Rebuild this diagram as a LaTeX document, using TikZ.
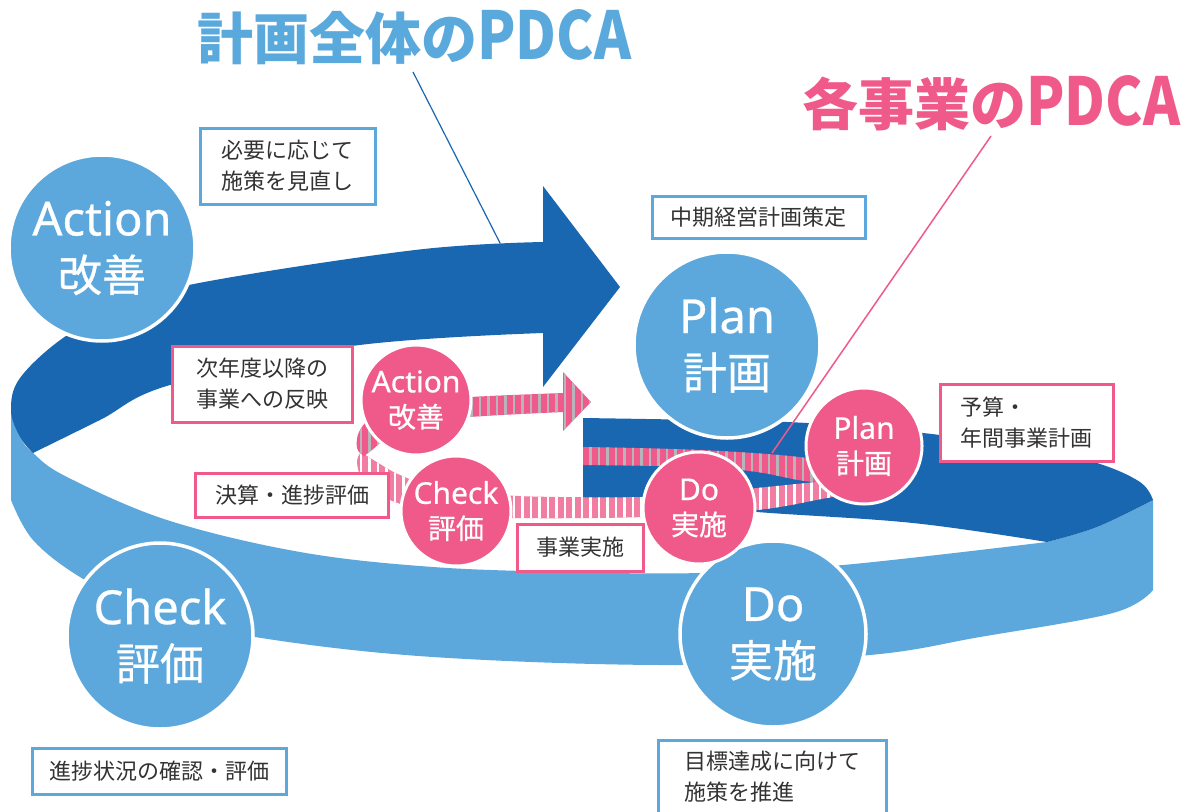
\documentclass[tikz,border=0pt]{standalone}
\usepackage{fontspec}
\setmainfont{Noto Sans CJK JP}
\newfontfamily\jp{Noto Sans CJK JP}
\newfontfamily\jpm{Noto Sans CJK JP}[FakeBold=0.6]
\newfontfamily\lat{Noto Sans}[FakeBold=0.6]
\definecolor{dblue}{HTML}{1A67B1}
\definecolor{lblue}{HTML}{5CA8DC}
\definecolor{tblue}{HTML}{5AA9DD}
\definecolor{pinkc}{HTML}{EF5A8A}
\definecolor{txt}{HTML}{333333}
\definecolor{stripeg}{HTML}{B8B4BC}
\definecolor{pinkl}{HTML}{F27DA2}
\newcommand\bigLat[1]{{\lat\fontsize{47}{56}\selectfont #1}}
\newcommand\bigJp[1]{{\jpm\fontsize{44}{56}\selectfont #1}}
\newcommand\smLat[1]{{\lat\fontsize{30}{35}\selectfont #1}}
\newcommand\smJp[1]{{\jpm\fontsize{28}{35}\selectfont #1}}
\newcommand\ttlLat[1]{\scalebox{0.85}[1]{\fontsize{66}{66}\selectfont #1}}
\newcommand\stripy[4]{%
  \begin{scope}
    \clip #1;
    \fill[#2] (300,300) rectangle (950,560);
    \foreach \xx in {300,308.5,...,950} {\fill[#3] (\xx,300) rectangle ({\xx+#4},560);}
  \end{scope}}
\begin{document}
\begin{tikzpicture}[x=1pt,y=-1pt,
  bigc/.style={circle,fill=lblue,draw=white,line width=3.5pt,minimum size=186pt,inner sep=0pt,text=white,align=center,font=\fontsize{46}{56}\selectfont},
  pcirc/.style={circle,fill=pinkc,draw=white,line width=3pt,minimum size=#1,inner sep=0pt,text=white,align=center,font=\fontsize{29}{35}\selectfont},
  pcirc/.default=110pt,
  bbox/.style={draw=lblue,fill=white,line width=3pt,inner sep=0pt,text=txt,align=left,font=\jp\fontsize{22}{31}\selectfont},
  pbox/.style={bbox,draw=pinkc},
  ttl/.style={anchor=west,inner sep=0pt,font=\jp\bfseries\fontsize{56}{60}\selectfont},
  leader/.style={line width=1.2pt}]
\useasboundingbox (0,0) rectangle (1188,811);
\fill[white] (0,0) rectangle (1188,811);

% big ribbon: light blue side
\fill[lblue] plot[smooth,tension=0.6] coordinates {(11,410) (20,437) (33,453) (67,477) (167,520) (300,552) (433,567) (570,572) (700,573) (843,565) (1047,542)}
  -- plot[smooth,tension=0.6] coordinates {(1047,542) (1097,527) (1153,500)}
  -- (1153,590)
  -- plot[smooth,tension=0.6] coordinates {(1153,590) (1113,613) (980,637) (870,655) (680,665) (433,657) (255,637) (150,612) (80,577) (33,540) (11,500)}
  -- cycle;
% big ribbon: dark blue right part
\fill[dblue] (583,418) -- plot[smooth,tension=0.6] coordinates {(583,418) (700,420) (807,423) (923,433) (1030,448) (1097,463) (1140,482) (1153,500)}
  -- plot[smooth,tension=0.6] coordinates {(1153,500) (1097,527) (1047,542)}
  -- plot[smooth,tension=0.6] coordinates {(1047,542) (913,523) (757,512) (650,502) (583,498)} -- cycle;
% big ribbon: dark blue top with arrow
\fill[dblue] (543,186) -- (620,287) -- (543,387) -- (543,333)
  -- plot[smooth,tension=0.6] coordinates {(543,333) (352,346) (170,385) (100,420) (33,453)}
  -- plot[smooth,tension=0.6] coordinates {(33,453) (20,437) (11,410) (20,378) (63,338) (120,307) (199,283) (415,250) (543,242)}
  -- cycle;

% pink ribbon: back band
\stripy{(583,447) -- plot[smooth,tension=0.6] coordinates {(583,447) (700,450) (807,458) (885,474)} -- (885,484) -- plot[smooth,tension=0.6] coordinates {(885,484) (813,482) (757,472) (700,467) (583,465)} -- cycle}{pinkc}{stripeg}{2.8}
% pink ribbon: front band
\stripy{plot[smooth,tension=0.6] coordinates {(885,476) (827,481) (757,488) (700,494) (645,497) (560,497) (500,495) (440,489) (400,475) (375,461) (361,452)} -- plot[smooth,tension=0.6] coordinates {(361,452) (357,462) (363,480) (385,498) (440,514) (510,518) (645,517) (757,510) (827,498) (885,488)} -- cycle}{pinkl}{white}{2.5}
% pink ribbon: arrow
\stripy{(563,372) -- (591,402) -- (563,431) -- (563,412) -- plot[smooth,tension=0.6] coordinates {(563,412) (470,417) (420,424) (390,436) (372,450) (364,456)} -- plot[smooth,tension=0.6] coordinates {(364,456) (357,448) (360,430) (380,412) (430,401) (470,397) (563,393)} -- cycle}{pinkc}{stripeg}{2.8}

% big circles
\node[bigc] (act) at (102,248) {\bigLat{Action}\\\bigJp{改善}};
\node[bigc] (plan) at (727,345) {\bigLat{Plan}\\\bigJp{計画}};
\node[bigc] (do) at (773,634) {\bigLat{Do}\\\bigJp{実施}};
\node[bigc] (chk) at (160,636) {\bigLat{Check}\\\bigJp{評価}};

% pink circles
\node[pcirc] (pact) at (416,400) {\smLat{Action}\\\smJp{改善}};
\node[pcirc] (pchk) at (456,511) {\smLat{Check}\\\smJp{評価}};
\node[pcirc=112pt] (pdo) at (699,508) {\smLat{Do}\\\smJp{実施}};
\node[pcirc=116pt] (pplan) at (864,446) {\smLat{Plan}\\\smJp{計画}};

% boxes
\node[bbox,minimum width=175pt,minimum height=76pt] (b1) at (287.5,166) {必要に応じて\\施策を見直し};
\node[bbox,minimum width=213pt,minimum height=42pt] (b2) at (758.5,217) {中期経営計画策定};
\node[bbox,minimum width=254pt,minimum height=46pt] (b3) at (159,771) {進捗状況の確認・評価};
\node[bbox,minimum width=228pt,minimum height=74pt] (b4) at (772,777) {目標達成に向けて\\施策を推進};
\node[pbox,minimum width=180pt,minimum height=76pt] (p1) at (262,384) {次年度以降の\\事業への反映};
\node[pbox,minimum width=193pt,minimum height=44pt] (p2) at (292,495.5) {決算・進捗評価};
\node[pbox,minimum width=126pt,minimum height=47pt] (p3) at (580,547.5) {事業実施};
\node[pbox,minimum width=173pt,minimum height=77pt] (p4) at (1026.5,422.5) {予算・\\年間事業計画};

% titles
\node[ttl,text=tblue] (t1) at (197,37) {計画全体の\ttlLat{PDCA}};
\node[ttl,text=pinkc] (t2) at (802,103) {各事業の\ttlLat{PDCA}};
\coordinate (l1a) at (413,72);
\coordinate (l1b) at (500,243);
\coordinate (l2a) at (991,136);
\coordinate (l2b) at (772,453);
\draw[leader,draw=dblue] (l1a) -- (l1b);
\draw[leader,draw=pinkc,line width=1.5pt] (l2a) -- (l2b);
\end{tikzpicture}
\end{document}
